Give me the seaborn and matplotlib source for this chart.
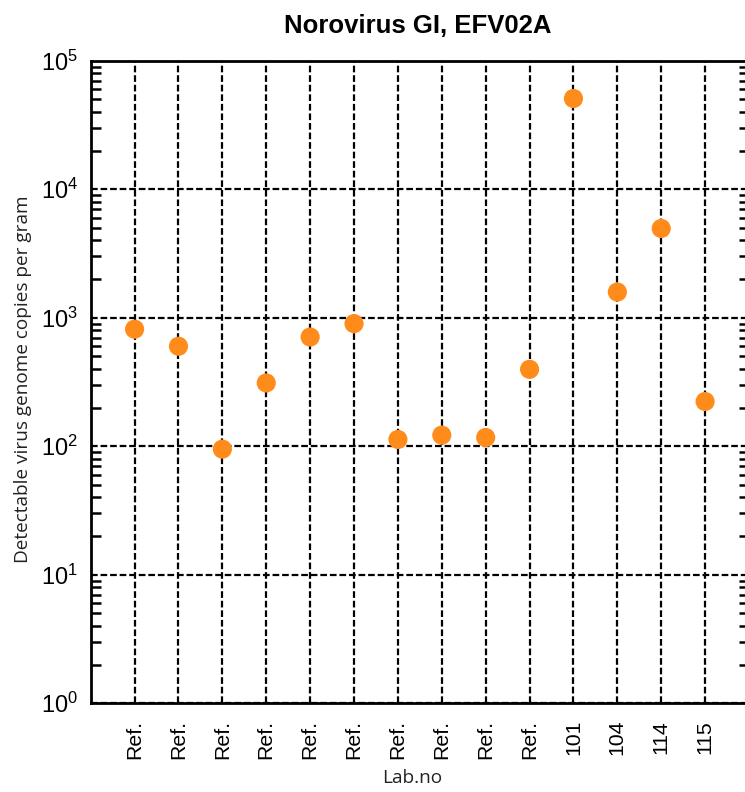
import numpy as np
import pandas as pd
import matplotlib
matplotlib.use("Agg")
import matplotlib.pyplot as plt
import seaborn as sns

# values
lab_labels = ["Ref.", "Ref.", "Ref.", "Ref.", "Ref.", "Ref.", "Ref.",
              "Ref.", "Ref.", "Ref.", "101", "104", "114", "115"]
copies_per_gram = [815, 600, 95, 311, 708, 900, 113,
                   122, 117, 397, 50800, 1585, 4950, 223]

df = pd.DataFrame({
    "pos": np.arange(len(lab_labels)),
    "lab": lab_labels,
    "copies": copies_per_gram,
})

sns.set_style("white")
plt.rcParams["font.family"] = ["Liberation Sans", "DejaVu Sans"]
plt.rcParams["mathtext.default"] = "regular"
plt.rcParams["text.color"] = "black"
plt.rcParams["xtick.color"] = "black"
plt.rcParams["ytick.color"] = "black"

fig = plt.figure(figsize=(7.45, 7.92), dpi=100)
W, H = 745, 792
left, right, top, bottom = 90.7, 749, 60.7, 703.3
ax = fig.add_axes([left / W, 1 - bottom / H, (right - left) / W, (bottom - top) / H])

sns.scatterplot(data=df, x="pos", y="copies", ax=ax, s=190,
                color="#FF8C1A", edgecolor="none", zorder=3)

ax.set_yscale("log")
ax.set_ylim(1, 1e5)
ax.set_xlim(-1, 14)

# grid
ax.set_axisbelow(True)
ax.grid(True, which="major", color="black", linestyle=(0, (3, 1.3)), linewidth=1.6)

ax.set_xticks(df["pos"])
ax.set_xticklabels(df["lab"], rotation=90, fontsize=15.3)
ax.tick_params(axis="x", length=0, pad=12)
ax.tick_params(axis="y", which="both", direction="in", left=True, right=True,
               labelsize=17, pad=9, width=1.8)
ax.tick_params(axis="y", which="major", length=0)
ax.tick_params(axis="y", which="minor", length=7)

for sp in ax.spines.values():
    sp.set_visible(True)
    sp.set_color("black")
    sp.set_linewidth(2)

ax.set_title("Norovirus GI, EFV02A", fontsize=18.5, fontweight="bold", pad=20,
             x=0.497, color="black")

ax.set_ylabel("Detectable virus genome copies per gram", fontsize=13.7,
              family=["Open Sans", "DejaVu Sans"], color="#222222")
ax.yaxis.set_label_coords(-0.089, 0.505)
ax.set_xlabel("Lab.no", fontsize=13.7, family=["Open Sans", "DejaVu Sans"], color="#222222")
ax.xaxis.set_label_coords(0.489, -0.102)

fig.savefig("out.png", dpi=100)
